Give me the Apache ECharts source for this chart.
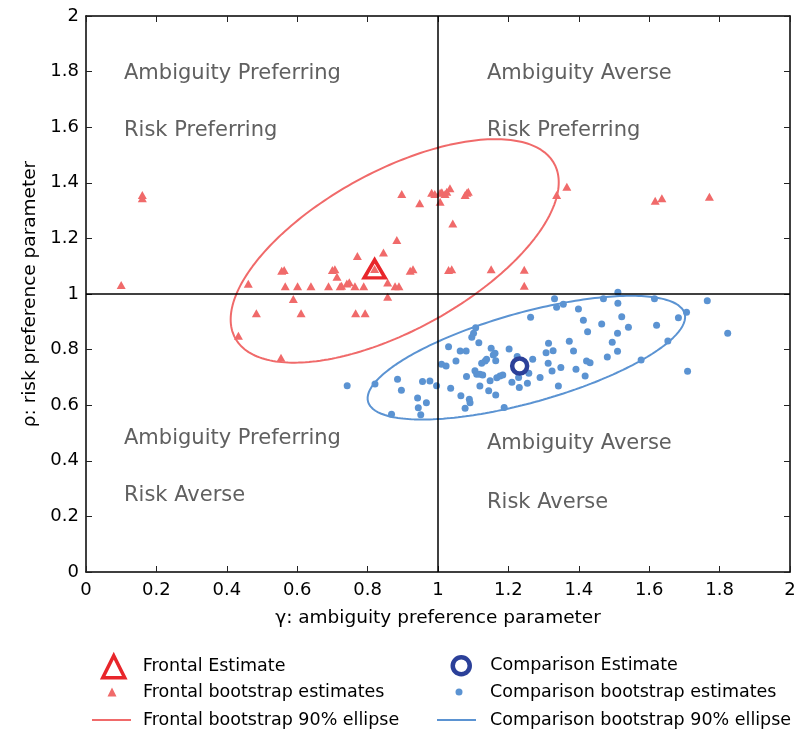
<!DOCTYPE html>
<html><head><meta charset="utf-8">
<script src="https://cdn.jsdelivr.net/npm/echarts@6/dist/echarts.min.js"></script>
<style>html,body{margin:0;padding:0;background:#fff}#c{width:807px;height:734px}</style>
</head><body><div id="c"></div>
<script>
// ---------- data ----------
const tickValues = [0,0.2,0.4,0.6,0.8,1,1.2,1.4,1.6,1.8,2];
const xTickLabels = ['0','0.2','0.4','0.6','0.8','1','1.2','1.4','1.6','1.8','2'];
const yTickLabels = ['0','0.2','0.4','0.6','0.8','1','1.2','1.4','1.6','1.8','2'];

const frontalEstimate = [[0.82, 1.09]];
const comparisonEstimate = [[1.232, 0.741]];

const frontalBootstrap = [
 [0.16,1.356],[0.16,1.344],[0.10,1.032],[0.461,1.037],[0.556,1.084],[0.563,1.086],
 [0.566,1.028],[0.601,1.028],[0.639,1.028],[0.689,1.028],[0.700,1.086],[0.707,1.089],
 [0.713,1.062],[0.722,1.028],[0.726,1.030],[0.741,1.038],[0.748,1.042],[0.764,1.028],
 [0.789,1.028],[0.771,1.137],[0.845,1.149],[0.883,1.194],[0.857,1.041],[0.878,1.028],
 [0.889,1.028],[0.921,1.084],[0.929,1.089],[0.897,1.360],[0.948,1.326],[0.982,1.364],
 [0.991,1.360],[1.006,1.364],[1.011,1.366],[1.020,1.360],[1.025,1.368],[1.034,1.380],
 [1.006,1.332],[1.077,1.356],[1.082,1.364],[1.086,1.368],[1.042,1.254],[1.030,1.086],
 [1.039,1.089],[1.151,1.089],[1.245,1.087],[1.245,1.030],[1.337,1.356],[1.366,1.386],
 [1.617,1.335],[1.636,1.344],[1.771,1.350],[0.589,0.982],[0.857,0.990],[0.484,0.931],
 [0.611,0.931],[0.766,0.931],[0.793,0.931],[0.433,0.850],[0.554,0.771],[0.82,1.09]
];

const comparisonBootstrap = [
 [0.742,0.670],[0.821,0.676],[0.868,0.567],[0.885,0.693],[0.896,0.654],[0.942,0.626],
 [0.944,0.591],[0.951,0.566],[0.956,0.685],[0.967,0.609],[0.977,0.687],[0.996,0.670],
 [1.010,0.747],[1.023,0.741],[1.030,0.810],[1.036,0.661],[1.051,0.759],[1.063,0.795],
 [1.080,0.795],[1.065,0.634],[1.077,0.589],[1.081,0.703],[1.089,0.621],[1.091,0.609],
 [1.096,0.844],[1.101,0.859],[1.107,0.879],[1.105,0.724],[1.110,0.711],[1.119,0.711],
 [1.127,0.709],[1.116,0.825],[1.119,0.669],[1.124,0.751],[1.134,0.759],[1.138,0.765],
 [1.144,0.652],[1.148,0.688],[1.151,0.805],[1.157,0.781],[1.162,0.787],[1.164,0.637],
 [1.164,0.760],[1.167,0.699],[1.176,0.705],[1.184,0.709],[1.188,0.592],[1.202,0.802],
 [1.210,0.683],[1.225,0.775],[1.231,0.664],[1.229,0.700],[1.254,0.679],[1.258,0.715],
 [1.263,0.916],[1.269,0.765],[1.290,0.700],[1.307,0.789],[1.314,0.823],[1.313,0.751],
 [1.324,0.723],[1.327,0.796],[1.331,0.983],[1.337,0.952],[1.342,0.669],[1.356,0.963],
 [1.349,0.736],[1.373,0.830],[1.385,0.795],[1.392,0.729],[1.399,0.946],[1.413,0.906],
 [1.418,0.705],[1.422,0.759],[1.432,0.753],[1.425,0.864],[1.465,0.892],[1.470,0.983],
 [1.481,0.773],[1.495,0.826],[1.510,0.859],[1.510,0.794],[1.511,1.006],[1.511,0.967],
 [1.522,0.918],[1.541,0.880],[1.577,0.763],[1.615,0.983],[1.621,0.888],[1.653,0.831],
 [1.683,0.915],[1.706,0.934],[1.709,0.722],[1.765,0.976],[1.823,0.859]
];

// 90% ellipse parameters: [centre x, centre y, half-width in x, half-height in y, x-y covariance term]
const frontalEllipseParams = [0.877, 1.155, 0.466, 0.402, 0.115];
const comparisonEllipseParams = [1.251, 0.771, 0.451, 0.2225, 0.066];

const quadrantTexts = [
  ['Ambiguity Preferring','Risk Preferring'],
  ['Ambiguity Averse','Risk Preferring'],
  ['Ambiguity Preferring','Risk Averse'],
  ['Ambiguity Averse','Risk Averse']
];

const seriesNames = {
  fe: 'Frontal Estimate', ce: 'Comparison Estimate',
  fb: 'Frontal bootstrap estimates', cb: 'Comparison bootstrap estimates',
  fl: 'Frontal bootstrap 90% ellipse', cl: 'Comparison bootstrap 90% ellipse'
};

// ---------- build ----------
function ellipsePoints(p) {
  const [cx, cy, w, h, c] = p;
  const a = c / w;
  const b = Math.sqrt(Math.max(h*h - a*a, 0));
  const pts = [];
  const n = 240;
  for (let i = 0; i <= n; i++) {
    const t = 2 * Math.PI * i / n;
    pts.push([cx + w * Math.cos(t), cy + a * Math.cos(t) + b * Math.sin(t)]);
  }
  return pts;
}

const FONT = 'DejaVu Sans';
const RED = '#f06a6a', RED_EST = '#e8262b', BLUE = '#5b93d2', BLUE_EST = '#2b4099';

function axisCommon(pos, labels, showLabel) {
  return {
    type: 'value', min: 0, max: 2, interval: 0.2, position: pos,
    axisLine: { show: true, onZero: false, lineStyle: { color: '#000', width: 1.5 } },
    axisTick: { show: true, inside: true, length: 6, lineStyle: { color: '#222', width: 1 } },
    splitLine: { show: false },
    axisLabel: {
      show: showLabel, color: '#000', fontSize: 18, fontFamily: FONT,
      formatter: v => { const i = tickValues.findIndex(t => Math.abs(t - v) < 1e-6); return i >= 0 ? labels[i] : ''; }
    }
  };
}

const xBottom = Object.assign(axisCommon('bottom', xTickLabels, true), {
  name: 'γ: ambiguity preference parameter', nameLocation: 'middle', nameGap: 37,
  nameTextStyle: { color: '#000', fontSize: 18.5, fontFamily: FONT }
});
xBottom.axisLabel.margin = 9;
const xTop = axisCommon('top', xTickLabels, false);
const yLeft = Object.assign(axisCommon('left', yTickLabels, true), {
  name: 'ρ: risk preference parameter', nameLocation: 'middle', nameGap: 46,
  nameTextStyle: { color: '#000', fontSize: 18.5, fontFamily: FONT }
});
yLeft.axisLabel.margin = 7;
const yRight = axisCommon('right', yTickLabels, false);

const textPos = [[124, 74, 131], [487, 74, 131], [124, 439, 496], [487, 444, 503]];
const graphics = [];
quadrantTexts.forEach((pair, i) => {
  const [x, y1, y2] = textPos[i];
  [y1, y2].forEach((y, j) => graphics.push({
    type: 'text', x: x, y: y, z: 50,
    style: { text: pair[j], fill: '#606060', font: '21px "DejaVu Sans"', verticalAlign: 'middle', align: 'left' }
  }));
});

function symbolLegend(name, icon, cx, cy, textX, s, extra) {
  const left = cx - s / 2;
  const h = Math.max(s, 20);
  return Object.assign({
    data: [{ name: name, icon: icon }], left: left, top: cy - h / 2, orient: 'horizontal',
    itemWidth: s, itemHeight: s, selectedMode: false, padding: 0,
    textStyle: { color: '#000', fontSize: 17.5, fontFamily: FONT, lineHeight: 20, padding: [0, 0, 0, textX - (left + s + 5)] }
  }, extra || {});
}
function lineLegend(name, left, cy, textX, w) {
  return {
    data: [{ name: name, icon: 'rect' }], left: left, top: cy - 10, orient: 'horizontal',
    itemWidth: w, itemHeight: 2, selectedMode: false, padding: 0,
    textStyle: { color: '#000', fontSize: 17.5, fontFamily: FONT, lineHeight: 20, padding: [0, 0, 0, textX - (left + w + 5)] }
  };
}

const legends = [
  symbolLegend(seriesNames.fe, 'triangle', 112, 665, 141, 22, { itemStyle: { borderWidth: 3.5, borderColor: RED_EST, color: '#fff', opacity: 1 } }),
  symbolLegend(seriesNames.fb, 'triangle', 112, 692, 143, 9, { itemStyle: { opacity: 1 } }),
  lineLegend(seriesNames.fl, 92, 720, 143, 39),
  symbolLegend(seriesNames.ce, 'circle', 459, 665, 488, 17, { itemStyle: { borderWidth: 4.5, borderColor: BLUE_EST, color: '#fff', opacity: 1 } }),
  symbolLegend(seriesNames.cb, 'circle', 459, 692, 490, 7, { itemStyle: { opacity: 1 } }),
  lineLegend(seriesNames.cl, 437, 720, 490, 39)
];

const chart = echarts.init(document.getElementById('c'), null, { renderer: 'canvas' });
chart.setOption({
  animation: false,
  backgroundColor: '#fff',
  grid: { left: 86, right: 17, top: 16, bottom: 162, containLabel: false },
  xAxis: [xBottom, xTop],
  yAxis: [yLeft, yRight],
  legend: legends,
  graphic: graphics,
  series: [
    {
      name: seriesNames.fl, type: 'line', data: ellipsePoints(frontalEllipseParams),
      symbol: 'none', showSymbol: false, smooth: false, z: 2,
      lineStyle: { color: RED, width: 2 }, itemStyle: { color: RED },
      markLine: {
        silent: true, symbol: 'none', label: { show: false },
        lineStyle: { color: '#000', width: 1.5, type: 'solid' },
        data: [{ xAxis: 1 }, { yAxis: 1 }]
      }
    },
    {
      name: seriesNames.cl, type: 'line', data: ellipsePoints(comparisonEllipseParams),
      symbol: 'none', showSymbol: false, smooth: false, z: 2,
      lineStyle: { color: BLUE, width: 2 }, itemStyle: { color: BLUE }
    },
    {
      name: seriesNames.fb, type: 'scatter', data: frontalBootstrap, symbol: 'triangle',
      symbolSize: [9, 8], z: 3, itemStyle: { color: RED, opacity: 1 }
    },
    {
      name: seriesNames.cb, type: 'scatter', data: comparisonBootstrap, symbol: 'circle',
      symbolSize: 7, z: 3, itemStyle: { color: BLUE, opacity: 1 }
    },
    {
      name: seriesNames.fe, type: 'scatter', data: frontalEstimate, symbol: 'triangle',
      symbolSize: [21, 18], z: 5,
      itemStyle: { color: 'rgba(255,255,255,0)', borderColor: RED_EST, borderWidth: 3.5, opacity: 1 }
    },
    {
      name: seriesNames.ce, type: 'scatter', data: comparisonEstimate, symbol: 'circle',
      symbolSize: 15, z: 5,
      itemStyle: { color: 'rgba(255,255,255,0)', borderColor: BLUE_EST, borderWidth: 4.5, opacity: 1 }
    }
  ]
});
</script>
</body></html>
